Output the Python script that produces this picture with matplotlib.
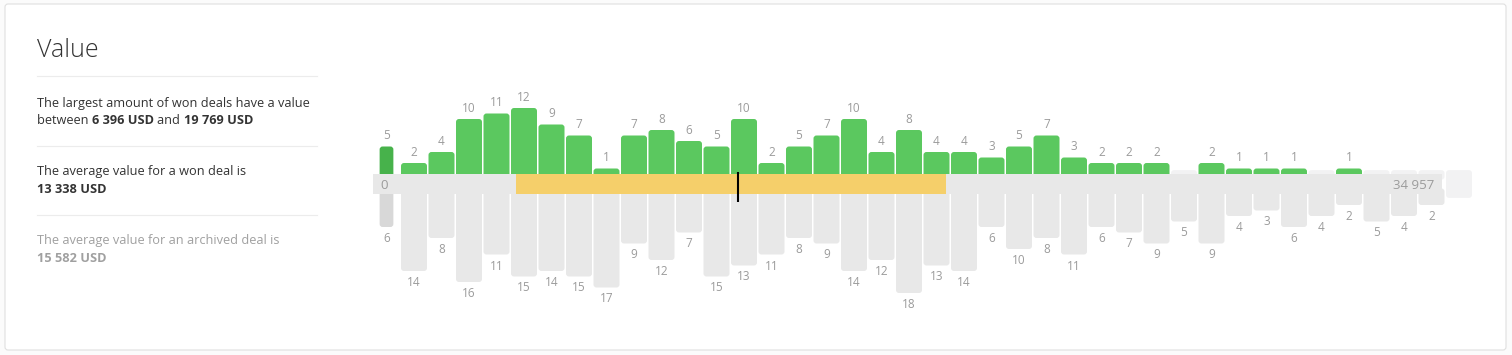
import numpy as np
import matplotlib
matplotlib.use("Agg")
import matplotlib.pyplot as plt
from matplotlib import font_manager
from matplotlib.patches import FancyBboxPatch, Rectangle

# won / archived deals per value bucket (first bucket = zero-value deals)
won = [5, 2, 4, 10, 11, 12, 9, 7, 1, 7, 8, 6, 5, 10, 2, 5, 7, 10, 4, 8,
       4, 4, 3, 5, 7, 3, 2, 2, 2, 0, 2, 1, 1, 1, 0, 1, 0, 0, 0, 0]
archived = [6, 14, 8, 16, 11, 15, 14, 15, 17, 9, 12, 7, 15, 13, 11, 8, 9, 14, 12, 18,
            13, 14, 6, 10, 8, 11, 6, 7, 9, 5, 9, 4, 3, 6, 4, 2, 5, 4, 2, 0]

range_low = "6 396 USD"
range_high = "19 769 USD"
avg_won = "13 338 USD"
avg_archived = "15 582 USD"
axis_min = "0"
axis_max = "34 957"

# where the values sit on the bucket axis
range_start, range_end = 3.71, 19.35
avg_pos = 11.78
band_end = 37.38

W, H = 1512, 355
PX_BIN = 27.5     # px per bucket
PX_UNIT = 5.5     # px per deal
X0 = 414          # px centre of first regular bucket
Y0 = 184          # px centre of the band
BAND = 10 / PX_UNIT

GREEN = "#5bc85f"
GREEN_DARK = "#47b24b"
GREY = "#e8e8e8"
GREY_DARK = "#d8d8d8"
EMPTY = "#f2f2f3"
ORANGE = "#f5cf6a"
LABEL = "#9b9b9b"
TEXT = "#333333"

plt.rcParams["font.family"] = ["Open Sans", "DejaVu Sans"]

# thin face for the title, if one is installed
title_family = "Open Sans"
for fam in ("Open Sans", "Lato", "Roboto"):
    path = font_manager.findfont(font_manager.FontProperties(family=fam, weight="light"),
                                 fallback_to_default=False)
    if "light" in path.lower():
        title_family = fam
        break

fig = plt.figure(figsize=(W / 100, H / 100), dpi=100)
fig.patch.set_facecolor("#fbfbfb")

bg = fig.add_axes([0, 0, 1, 1])
bg.set_xlim(0, W)
bg.set_ylim(H, 0)
bg.axis("off")

card = FancyBboxPatch((5, 4), 1501, 346, boxstyle="round,pad=0,rounding_size=3",
                      fc="white", ec="#e0e0e0", lw=0.8)
bg.add_patch(card)

# ---- left panel
bg.text(37, 57, "Value", fontsize=18, fontweight="light", family=title_family,
        color=TEXT, va="baseline")
for yy in (76, 145.5, 214.5):
    bg.plot([37, 317], [yy, yy], color="#ececec", lw=0.8)

renderer = fig.canvas.get_renderer()


def text_width(s, size, weight):
    probe = bg.text(0, 0, s + "|", fontsize=size, fontweight=weight)
    ref = bg.text(0, 0, "|", fontsize=size, fontweight=weight)
    w = probe.get_window_extent(renderer).width - ref.get_window_extent(renderer).width
    probe.remove()
    ref.remove()
    return w


def rich(x, y, parts, color, size=9.2):
    for s, bold in parts:
        weight = "bold" if bold else "normal"
        bg.text(x, y, s, fontsize=size, fontweight=weight, color=color, va="baseline")
        x += text_width(s, size, weight)


rich(37, 106.7, [("The largest amount of won deals have a value", False)], TEXT)
rich(37, 124.3, [("between ", False), (range_low + " ", True), ("and ", False),
                 (range_high, True)], TEXT)
rich(37, 175, [("The average value for a won deal is", False)], TEXT)
rich(37, 192.7, [(avg_won, True)], TEXT)
rich(37, 244.3, [("The average value for an archived deal is", False)], "#a0a0a0")
rich(37, 261.7, [(avg_archived, True)], "#a0a0a0")

# ---- chart
L, R, T, B = 360, 1490, 55, 330
ax = fig.add_axes([L / W, 1 - B / H, (R - L) / W, (B - T) / H])
ax.set_xlim((L - X0) / PX_BIN, (R - X0) / PX_BIN)
ax.set_ylim((Y0 - B) / PX_UNIT, (Y0 - T) / PX_UNIT)
ax.axis("off")
ax.patch.set_alpha(0)

n = len(won)
xs = np.arange(n) - 1.0
widths = [0.5] + [26 / PX_BIN] * (n - 1)
rs = 3 / PX_BIN
aspect = (3 / PX_UNIT) / rs


def box(x0, y0, w, h, color, z=2):
    p = FancyBboxPatch((x0, y0), w, h, boxstyle=f"round,pad=0,rounding_size={rs}",
                       mutation_aspect=aspect, fc=color, ec="none", zorder=z)
    ax.add_patch(p)


for i in range(n):
    x, w = xs[i], widths[i]
    if won[i] == 0 and archived[i] == 0:
        box(x - w / 2, -BAND - 0.7, w, 2 * BAND + 1.4, EMPTY)
        continue
    if won[i] > 0:
        box(x - w / 2, BAND - 1, w, won[i] + 1, GREEN_DARK if i == 0 else GREEN)
        ax.annotate(str(won[i]), (x, BAND + won[i]), xytext=(0, 7),
                    textcoords="offset pixels", ha="center", va="baseline",
                    fontsize=8.5, color=LABEL)
    else:
        box(x - w / 2, BAND - 1, w, 1.7, EMPTY)
    if archived[i] > 0:
        box(x - w / 2, -BAND - archived[i], w, archived[i] + 1,
            GREY_DARK if i == 0 else GREY)
        ax.annotate(str(archived[i]), (x, -BAND - archived[i]), xytext=(0, -5),
                    textcoords="offset pixels", ha="center", va="top",
                    fontsize=8.5, color=LABEL)

# band with the range and the average
ax.add_patch(Rectangle((-1.5, -BAND), band_end + 1.5, 2 * BAND, fc=GREY, ec="none", zorder=3))
ax.add_patch(Rectangle((range_start, -BAND), range_end - range_start, 2 * BAND,
                       fc=ORANGE, ec="none", zorder=4))
ax.plot([avg_pos, avg_pos], [(Y0 - 172) / PX_UNIT, (Y0 - 202) / PX_UNIT],
        color="black", lw=1.5, solid_capstyle="butt", zorder=5)
ax.text(-1.22, -5 / PX_UNIT, axis_min, ha="left", va="baseline", fontsize=9.5,
        color=LABEL, zorder=6)
ax.text(37.09, -5 / PX_UNIT, axis_max, ha="right", va="baseline", fontsize=9.5,
        color=LABEL, zorder=6)

fig.savefig("out.png", dpi=100, facecolor=fig.get_facecolor())
